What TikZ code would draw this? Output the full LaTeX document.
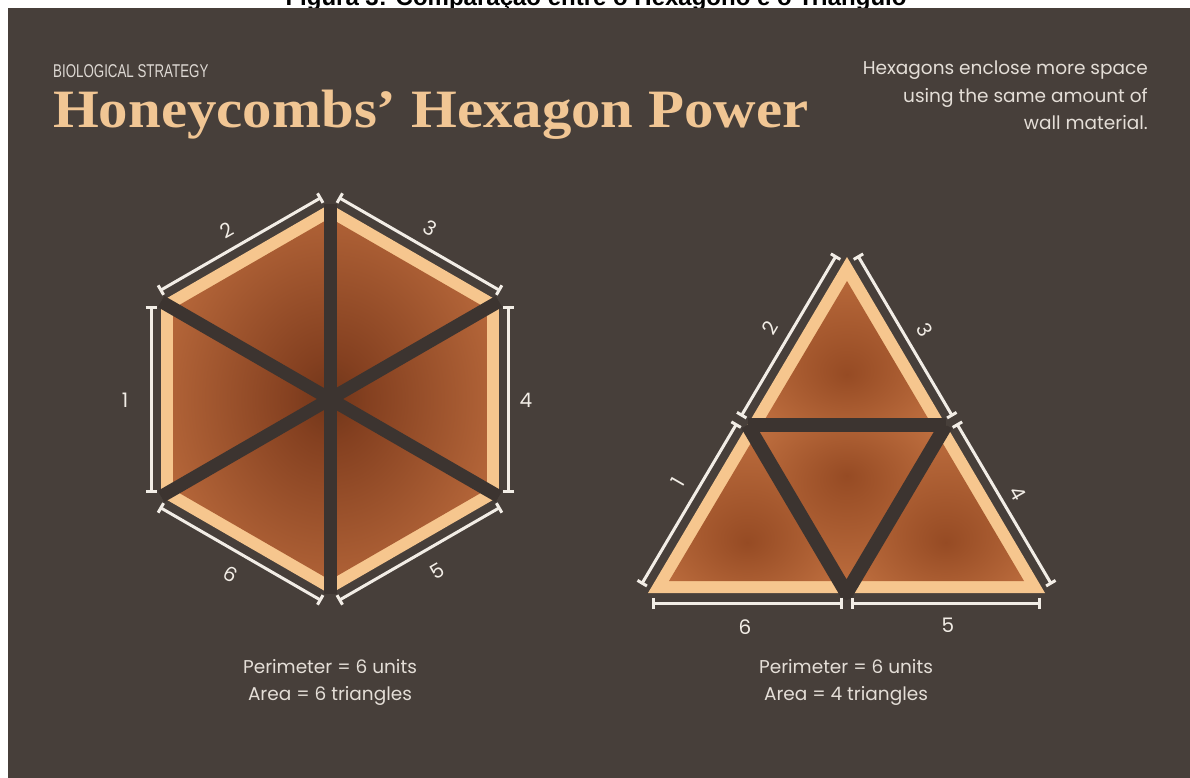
\documentclass[tikz,border=0pt]{standalone}
\usepackage{fontspec}
\setmainfont{Poppins}
\newfontfamily\titlefont{Liberation Serif}
\newfontfamily\capfont{Liberation Sans}
\usetikzlibrary{calc,arrows.meta}
\definecolor{bg}{RGB}{71,63,58}
\definecolor{spoke}{RGB}{60,52,48}
\definecolor{peach}{RGB}{246,198,142}
\definecolor{wline}{RGB}{242,237,230}
\definecolor{titlec}{RGB}{241,198,148}
\definecolor{txt}{RGB}{228,222,215}
\definecolor{subc}{RGB}{222,217,212}
\definecolor{hin}{RGB}{112,54,26}
\definecolor{hmid}{RGB}{132,64,32}
\definecolor{hout}{RGB}{186,106,60}
\definecolor{hedge}{RGB}{196,118,70}
\definecolor{tin}{RGB}{150,75,36}
\definecolor{tout}{RGB}{192,112,64}
\pgfdeclareradialshading{hexsh}{\pgfpoint{0bp}{0bp}}{color(0bp)=(hin); color(6bp)=(hmid); color(30bp)=(hout); color(50bp)=(hedge)}
\pgfdeclareradialshading{trishup}{\pgfpoint{0bp}{-10bp}}{color(0bp)=(tin); color(30bp)=(tout); color(50bp)=(tout)}
\pgfdeclareradialshading{trishdn}{\pgfpoint{0bp}{10bp}}{color(0bp)=(tin); color(30bp)=(tout); color(50bp)=(tout)}
\newcommand\dimseg[2]{\draw[dimline] ($(#1)!4pt!(#2)!10pt!90:(#2)$) -- ($(#2)!4pt!(#1)!10pt!-90:(#1)$);}
\begin{document}
\begin{tikzpicture}[x=1pt,y=-1pt,
  dimline/.style={draw=wline,line width=3pt,arrows={Bar[width=11pt]-Bar[width=11pt]}},
  wall/.style={draw=spoke,line width=13pt},
  num/.style={text=wline,font=\fontsize{20}{20}\selectfont,inner sep=0pt},
  body/.style={text=txt,font=\fontsize{18.5}{21}\selectfont,inner sep=0pt,anchor=base},
  note/.style={text=txt,font=\fontsize{18.5}{21}\selectfont,inner sep=0pt,anchor=base east}
]
\useasboundingbox (0,0) rectangle (1190,778);
\fill[white] (0,0) rectangle (1190,778);
\node[anchor=base,inner sep=0pt,font=\capfont\bfseries\fontsize{24}{24}\selectfont] (caption) at (596,6) {Figura 3: Comparação entre o Hexágono e o Triângulo};
\fill[bg] (8,8) rectangle (1190,778);

% header
\node[anchor=base west,inner sep=0pt,text=subc,font=\capfont\fontsize{18.5}{18.5}\selectfont] (bio) at (53,78) {\scalebox{0.72}[1]{BIOLOGICAL STRATEGY}};
\node[anchor=base west,inner sep=0pt,text=titlec,font=\titlefont\bfseries\fontsize{54}{54}\selectfont] (title) at (53,128) {\scalebox{1.09}[1]{Honeycombs’ Hexagon Power}};
\node[note] (n1) at (1148,75) {Hexagons enclose more space};
\node[note] (n2) at (1148,103) {using the same amount of};
\node[note] (n3) at (1148,130) {wall material.};

% ---------- hexagon ----------
\coordinate (hc) at (330,399);
\coordinate (ht) at (330,204);
\coordinate (hur) at (498.9,301.5);
\coordinate (hlr) at (498.9,496.5);
\coordinate (hb) at (330,594);
\coordinate (hll) at (161.1,496.5);
\coordinate (hul) at (161.1,301.5);
\fill[peach] (ht) -- (hur) -- (hlr) -- (hb) -- (hll) -- (hul) -- cycle;
\shade[shading=hexsh] (330,218) -- (486.8,308.5) -- (486.8,489.5) -- (330,580) -- (173.2,489.5) -- (173.2,308.5) -- cycle;
\foreach \v in {ht,hur,hlr,hb,hll,hul} \draw[wall] (hc) -- (\v);
\dimseg{hll}{hul}
\dimseg{hul}{ht}
\dimseg{ht}{hur}
\dimseg{hur}{hlr}
\dimseg{hlr}{hb}
\dimseg{hb}{hll}
\node[num] (h1) at (125,400) {1};
\node[num,rotate=30] (h2) at (227,230) {2};
\node[num,rotate=-30] (h3) at (430,228) {3};
\node[num] (h4) at (526,400) {4};
\node[num,rotate=30] (h5) at (437,571) {5};
\node[num,rotate=-30] (h6) at (231,574) {6};

% ---------- triangle ----------
\coordinate (ta) at (847,257);
\coordinate (tbl) at (648,593);
\coordinate (tbr) at (1045,593);
\coordinate (tml) at (747.5,425);
\coordinate (tmr) at (946,425);
\coordinate (tmb) at (846.5,593);
\fill[peach] (ta) -- (tbr) -- (tbl) -- cycle;
\begin{scope}
  \clip (847,281) -- (1024,581) -- (669,581) -- cycle;
  \shade[shading=trishup] (ta) -- (tmr) -- (tml) -- cycle;
  \shade[shading=trishup] (tml) -- (tmb) -- (tbl) -- cycle;
  \shade[shading=trishup] (tmr) -- (tbr) -- (tmb) -- cycle;
\end{scope}
\shade[shading=trishdn] (tml) -- (tmr) -- (tmb) -- cycle;
\draw[wall,line width=14pt] (tml) -- (tmr);
\draw[wall,line width=14pt,line join=round] (tml) -- (tmb) -- (tmr);
\dimseg{tbl}{tml}
\dimseg{tml}{ta}
\dimseg{ta}{tmr}
\dimseg{tmr}{tbr}
\dimseg{tbr}{tmb}
\dimseg{tmb}{tbl}
\node[num,rotate=60] (t1) at (678,482) {1};
\node[num,rotate=60] (t2) at (770,328) {2};
\node[num,rotate=-60] (t3) at (925,330) {3};
\node[num,rotate=-60] (t4) at (1018,493) {4};
\node[num] (t5) at (948,625) {5};
\node[num] (t6) at (745,627) {6};

% captions
\node[body] (hp) at (330,673) {Perimeter = 6 units};
\node[body] (ha) at (330,700) {Area = 6 triangles};
\node[body] (tp) at (846,673) {Perimeter = 6 units};
\node[body] (tarea) at (846,700) {Area = 4 triangles};
\end{tikzpicture}
\end{document}
